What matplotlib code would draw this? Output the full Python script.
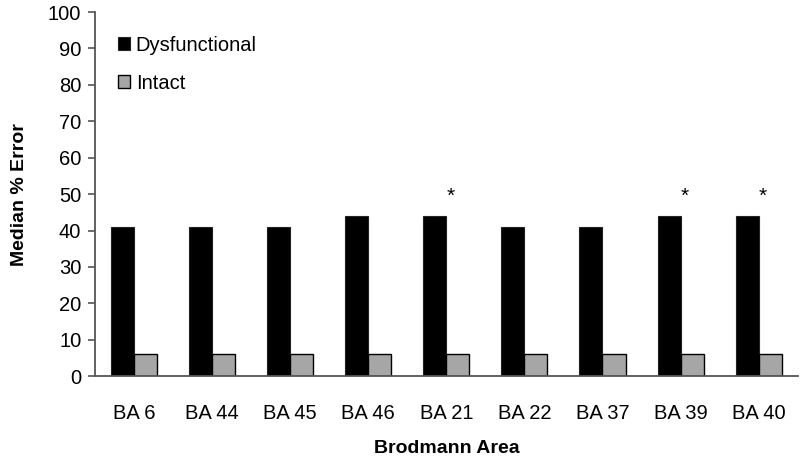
import matplotlib.pyplot as plt
import numpy as np

plt.rcParams['font.family'] = ['Liberation Sans', 'DejaVu Sans']

areas = ['BA 6', 'BA 44', 'BA 45', 'BA 46', 'BA 21', 'BA 22', 'BA 37', 'BA 39', 'BA 40']
dysfunctional = [41, 41, 41, 44, 44, 41, 41, 44, 44]
intact = [6, 6, 6, 6, 6, 6, 6, 6, 6]
significant = [False, False, False, False, True, False, False, True, True]
star_height = 49.5

fig = plt.figure(figsize=(8, 4.65), dpi=100)
ax = fig.add_axes([0.119, 0.191, 0.878, 0.783])

x = np.arange(len(areas))
w = 0.295
ax.bar(x - w/2, dysfunctional, w, color='black', edgecolor='#222222', linewidth=0.8, label='Dysfunctional')
ax.bar(x + w/2, intact, w, color='#a6a6a6', edgecolor='black', linewidth=1.0, label='Intact')

for i, s in enumerate(significant):
    if s:
        ax.text(x[i] + 0.05, star_height, '*', ha='center', va='center', fontsize=15)

ax.set_xlim(-0.5, len(areas) - 0.5)
ax.set_ylim(0, 100)
ax.set_yticks(range(0, 101, 10))
ax.set_xticks(x)
ax.set_xticklabels(areas)
ax.tick_params(axis='y', labelsize=14.5, length=5, width=1.2, color='#555555', direction='out', pad=5)
ax.tick_params(axis='x', labelsize=14.5, length=0, pad=20)
for side in ['top', 'right']:
    ax.spines[side].set_visible(False)
for side in ['left', 'bottom']:
    ax.spines[side].set_color('#555555')
    ax.spines[side].set_linewidth(1.3)

ax.set_ylabel('Median % Error', fontsize=14, fontweight='bold', labelpad=14)
ax.set_xlabel('Brodmann Area', fontsize=14, fontweight='bold', labelpad=12)

ax.legend(loc='upper left', bbox_to_anchor=(0.006, 0.985), frameon=False, fontsize=14.5,
          handlelength=0.6, handleheight=0.6, handletextpad=0.3, labelspacing=0.95)

fig.savefig('out.png', dpi=100)
